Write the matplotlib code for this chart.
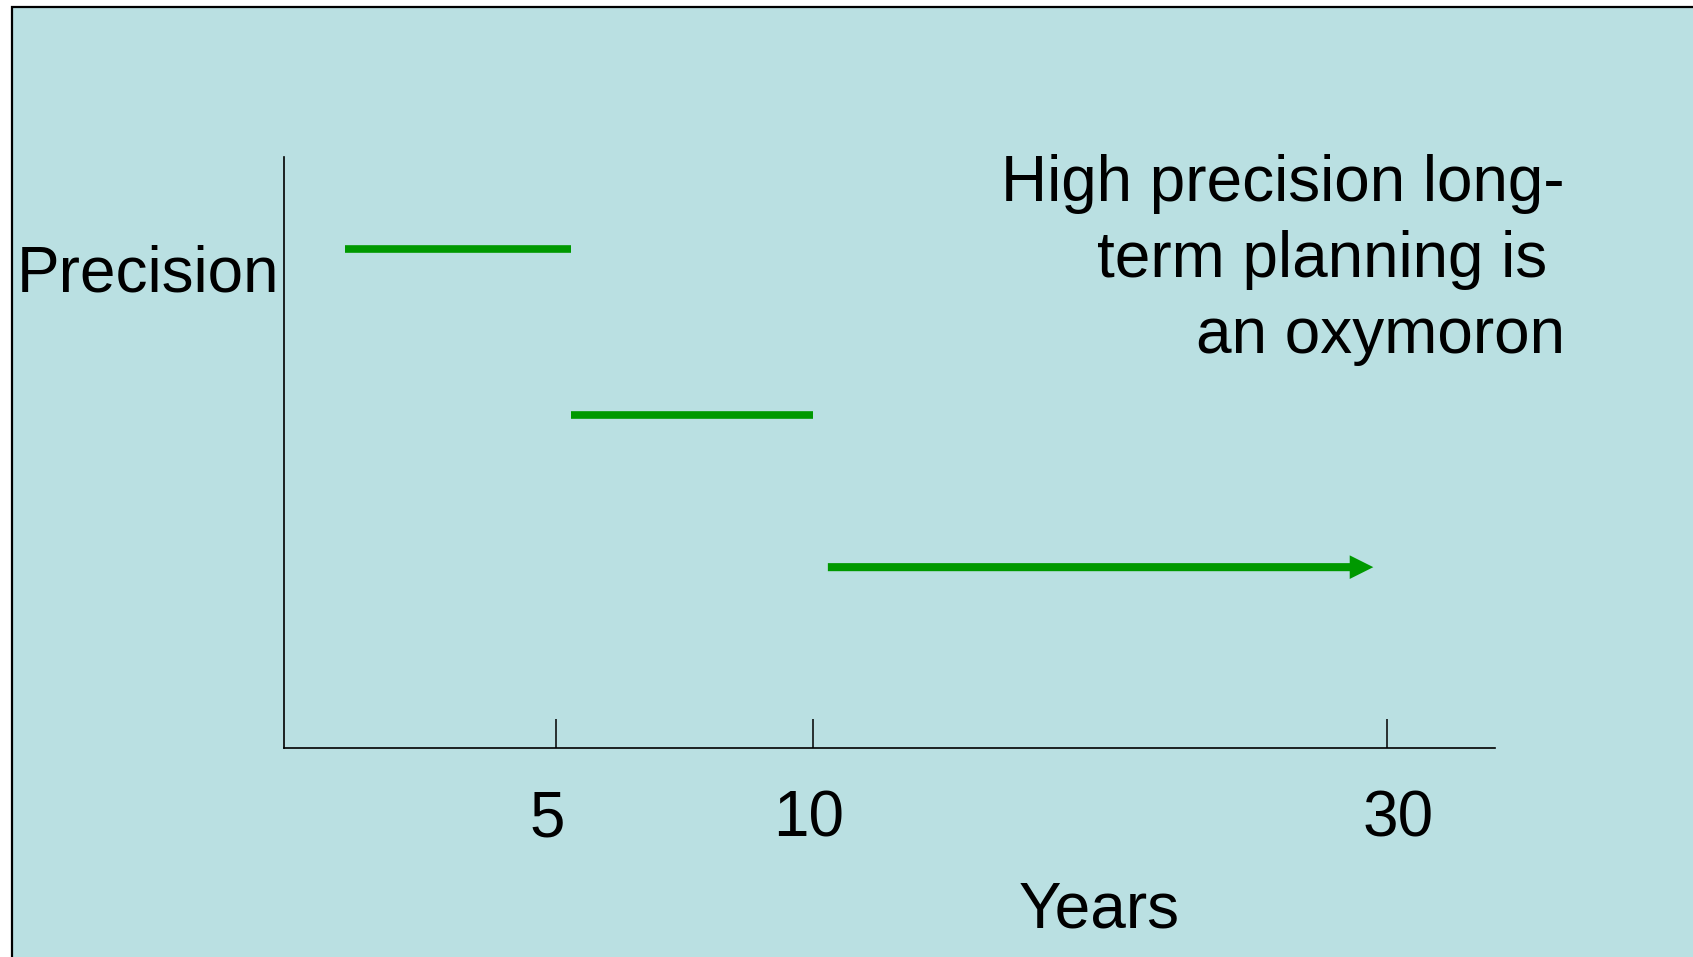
import numpy as np
import matplotlib.pyplot as plt
from matplotlib.patches import Rectangle

plt.rcParams['font.family'] = ['Liberation Sans', 'DejaVu Sans']

# schematic horizon segments (axis units) and their precision level
seg_start = [1.15, 5.43]
seg_end = [5.43, 10.0]
seg_prec = [0.844, 0.563]
arrow_start, arrow_end, arrow_prec = 10.28, 20.59, 0.306

tick_pos = [5.14, 10.0, 20.85]
label_pos = [4.97, 9.92, 21.06]
tick_labels = ['5', '10', '30']

bg = '#BAE0E2'
green = '#009900'

fig = plt.figure(figsize=(16.93, 9.57), dpi=100, facecolor='white')
fig.patches.append(Rectangle((12/1693, -0.1), 1.2, 1.1 - 7/957, transform=fig.transFigure,
                             facecolor=bg, edgecolor='black', linewidth=1.6, zorder=-1))

ax = fig.add_axes([284/1693, 1 - 748/957, (1495 - 284)/1693, (748 - 157)/957])
ax.patch.set_alpha(0)
ax.set_xlim(0, 22.89)
ax.set_ylim(0, 1)
for s in ['top', 'right']:
    ax.spines[s].set_visible(False)
for s in ['left', 'bottom']:
    ax.spines[s].set_linewidth(1.2)

ax.set_yticks([])
ax.set_xticks(tick_pos, ['', '', ''])
ax.set_xticks(label_pos, tick_labels, minor=True)
ax.tick_params(axis='x', which='major', direction='in', length=21, width=1.1)
ax.tick_params(axis='x', which='minor', length=0, pad=30, labelsize=46)

for x0, x1, y in zip(seg_start, seg_end, seg_prec):
    ax.plot([x0, x1], [y, y], color=green, linewidth=5.5, solid_capstyle='butt')

ax.annotate('', xy=(arrow_end, arrow_prec), xytext=(arrow_start, arrow_prec),
            arrowprops=dict(arrowstyle='simple,head_length=17,head_width=17,tail_width=5.8',
                            mutation_scale=1, facecolor=green, edgecolor='none',
                            linewidth=0, shrinkA=0, shrinkB=0))

fig.text(279/1693, 1 - 275/957, 'Precision', fontsize=46, ha='right', va='center')
fig.text(1099/1693, 1 - 910/957, 'Years', fontsize=46, ha='center', va='center')
fig.text(1565/1693, 1 - 260/957, 'High precision long-\nterm planning is \nan oxymoron',
         fontsize=46, ha='right', va='center', multialignment='right', linespacing=1.33)

fig.savefig('out.png', dpi=100, facecolor='white')
